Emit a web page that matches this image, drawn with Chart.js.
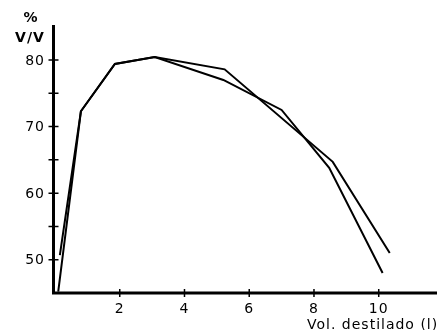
<!DOCTYPE html>
<html>
<head>
<meta charset="utf-8">
<script src="https://cdn.jsdelivr.net/npm/chart.js@4/dist/chart.umd.min.js"></script>
<style>
html,body{margin:0;padding:0;background:#fff;}
#wrap{width:437px;height:330px;position:relative;}
</style>
</head>
<body>
<div id="wrap"><canvas id="c" width="437" height="330"></canvas></div>
<script>
// Data
const seriesAX = [0.15, 0.8, 1.85, 3.08, 5.24, 8.58, 10.34];
const seriesAY = [50.7, 72.3, 79.4, 80.45, 78.6, 64.7, 51.0];
const seriesBX = [0.1, 0.8, 1.85, 3.08, 5.2, 7.0, 8.47, 10.12];
const seriesBY = [45.2, 72.3, 79.4, 80.45, 77.0, 72.5, 63.8, 48.0];
const xTickLabels = [2, 4, 6, 8, 10];
const yTickLabels = [50, 60, 70, 80];
const yMinorTicks = [55, 65, 75];
const yUnitTop = "%";
const yUnitBottom = "V/V";
const xTitle = "Vol. destilado (l)";

const toPts = (xs, ys) => xs.map((x, i) => ({x: x, y: ys[i]}));

const FONT = '"DejaVu Sans", sans-serif';

const axesPlugin = {
  id: 'axesPlugin',
  afterDatasetsDraw(chart) {
    const ctx = chart.ctx;
    const xs = chart.scales.x, ys = chart.scales.y;
    const x0 = xs.getPixelForValue(0) - 1.5;
    const yb = ys.getPixelForValue(45);
    const yt = ys.getPixelForValue(ys.max);
    ctx.save();
    ctx.strokeStyle = '#000';
    ctx.fillStyle = '#000';
    // axis lines
    ctx.lineWidth = 3;
    ctx.beginPath();
    ctx.moveTo(x0, yt);
    ctx.lineTo(x0, yb + 1.5);
    ctx.moveTo(x0 - 1.5, yb);
    ctx.lineTo(437, yb);
    ctx.stroke();
    // ticks crossing the axes
    ctx.lineWidth = 1.5;
    ctx.beginPath();
    yTickLabels.concat(yMinorTicks).forEach(v => {
      const p = ys.getPixelForValue(v);
      ctx.moveTo(x0 - 5, p);
      ctx.lineTo(x0 + 5, p);
    });
    xTickLabels.forEach(v => {
      const p = xs.getPixelForValue(v);
      ctx.moveTo(p, yb - 4);
      ctx.lineTo(p, yb + 4);
    });
    ctx.stroke();
    // labels
    ctx.letterSpacing = '1px';
    ctx.font = '14px ' + FONT;
    ctx.textAlign = 'right';
    ctx.textBaseline = 'middle';
    yTickLabels.forEach(v => {
      ctx.fillText(String(v), 45, ys.getPixelForValue(v) + 1);
    });
    ctx.textAlign = 'center';
    xTickLabels.forEach(v => {
      ctx.fillText(String(v), xs.getPixelForValue(v), yb + 16);
    });
    ctx.font = 'bold 14px ' + FONT;
    ctx.fillText(yUnitTop, 31, 18);
    ctx.fillText(yUnitBottom, 30, 38);
    ctx.textAlign = 'left';
    ctx.textBaseline = 'alphabetic';
    ctx.font = '14px ' + FONT;
    ctx.fillText(xTitle, 307, 329);
    ctx.restore();
  }
};

new Chart(document.getElementById('c'), {
  type: 'scatter',
  data: {
    datasets: [
      {data: toPts(seriesAX, seriesAY), showLine: true, borderColor: '#000', borderWidth: 2,
       pointRadius: 0, tension: 0, fill: false},
      {data: toPts(seriesBX, seriesBY), showLine: true, borderColor: '#000', borderWidth: 2,
       pointRadius: 0, tension: 0, fill: false}
    ]
  },
  options: {
    responsive: false,
    animation: false,
    clip: false,
    layout: {padding: {left: 55, right: 0, top: 25, bottom: 37}},
    plugins: {legend: {display: false}, tooltip: {enabled: false}},
    scales: {
      x: {type: 'linear', display: false, min: 0, max: 11.8},
      y: {type: 'linear', display: false, min: 45, max: 85.26}
    }
  },
  plugins: [axesPlugin]
});
</script>
</body>
</html>
